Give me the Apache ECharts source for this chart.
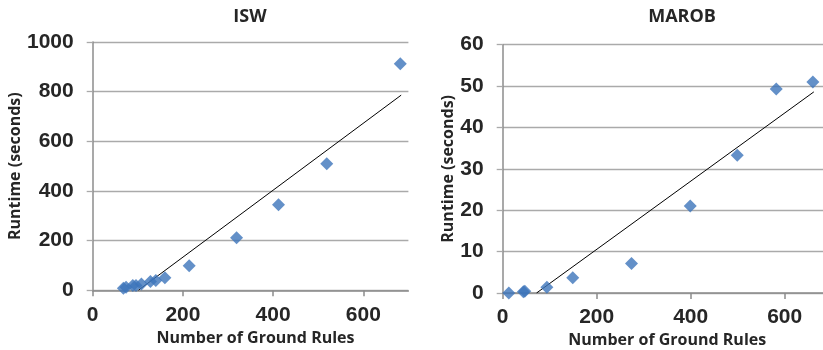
<!DOCTYPE html>
<html><head><meta charset="utf-8">
<script src="https://cdn.jsdelivr.net/npm/echarts@6/dist/echarts.min.js"></script>
<style>html,body{margin:0;padding:0;background:#fff}#c{width:823px;height:350px}</style>
</head><body><div id="c"></div>
<script>
const titles = ['ISW', 'MAROB'];
const xName = 'Number of Ground Rules';
const yName = 'Runtime (seconds)';
const iswX = [68, 74, 89, 96, 108, 128, 140, 160, 214, 319, 412, 519, 682];
const iswY = [8, 12, 19, 19, 25, 35, 39, 51, 99, 212, 345, 510, 912];
const iswTrendX = [101, 684];
const iswTrendY = [0, 786];
const marobX = [13, 44, 47, 94, 149, 274, 399, 499, 582, 660];
const marobY = [0, 0.3, 0.4, 1.4, 3.7, 7.1, 21.0, 33.3, 49.3, 51.0];
const marobTrendX = [72, 662];
const marobTrendY = [0, 48.6];
const xTicks = [0, 200, 400, 600];
const iswYTicks = [0, 200, 400, 600, 800, 1000];
const marobYTicks = [0, 10, 20, 30, 40, 50, 60];

const zip = (a, b) => a.map((v, i) => [v, b[i]]);
const blue = '#3c74ba';
const labelFont = {fontFamily: 'Liberation Sans', fontWeight: 'bold', fontSize: 21, color: '#262626'};
const nameFont = {fontFamily: 'Open Sans', fontWeight: 'bold', fontSize: 16, color: '#262626'};
const titleFont = {fontFamily: 'Open Sans', fontWeight: 'bold', fontSize: 18, color: '#262626'};

function xAxis(gi, gap, pad) {
  return {
    type: 'value', gridIndex: gi, min: 0, max: 700, interval: 200,
    name: xName, nameLocation: 'middle', nameGap: gap,
    nameTextStyle: Object.assign({padding: pad}, nameFont),
    axisLine: {show: true, lineStyle: {color: '#8c8c8c', width: 1.5}},
    axisTick: {show: true, length: 6, lineStyle: {color: '#8c8c8c', width: 1.5}, customValues: xTicks},
    axisLabel: Object.assign({margin: 14, customValues: xTicks, formatter: v => String(v)}, labelFont),
    splitLine: {show: false}
  };
}
function yAxis(gi, max, interval, gap, ticks) {
  return {
    type: 'value', gridIndex: gi, min: 0, max: max, interval: interval,
    name: yName, nameLocation: 'middle', nameGap: gap, nameTextStyle: nameFont,
    axisLine: {show: true, lineStyle: {color: '#8c8c8c', width: 1.5}},
    axisTick: {show: true, length: 6, lineStyle: {color: '#aaa', width: 1.3}},
    axisLabel: Object.assign({margin: 19, formatter: v => String(v)}, labelFont),
    splitLine: {show: true, lineStyle: {color: '#aaa', width: 1.3}}
  };
}

const chart = echarts.init(document.getElementById('c'), null, {renderer: 'canvas'});
chart.setOption({
  animation: false,
  backgroundColor: '#fff',
  title: [
    {text: titles[0], left: 245, top: 3, textAlign: 'center', textStyle: titleFont},
    {text: titles[1], left: 677, top: 3, textAlign: 'center', textStyle: titleFont}
  ],
  grid: [
    {left: 92.7, right: 414.6, top: 42, bottom: 59.7, containLabel: false, outerBoundsMode: 'none'},
    {left: 502.7, right: -8.7, top: 44.7, bottom: 57, containLabel: false, outerBoundsMode: 'none'}
  ],
  xAxis: [xAxis(0, 38, [0, 0, 0, 10]), xAxis(1, 35, [0, 0, 0, 0])],
  yAxis: [yAxis(0, 1000, 200, 66, iswYTicks), yAxis(1, 60, 10, 43, marobYTicks)],
  series: [
    {type: 'line', xAxisIndex: 0, yAxisIndex: 0, data: zip(iswTrendX, iswTrendY), symbol: 'none', lineStyle: {color: '#000', width: 1}, z: 2},
    {type: 'scatter', xAxisIndex: 0, yAxisIndex: 0, data: zip(iswX, iswY), symbol: 'diamond', symbolSize: [13, 13], itemStyle: {color: blue}, z: 3},
    {type: 'line', xAxisIndex: 1, yAxisIndex: 1, data: zip(marobTrendX, marobTrendY), symbol: 'none', lineStyle: {color: '#000', width: 1}, z: 2},
    {type: 'scatter', xAxisIndex: 1, yAxisIndex: 1, data: zip(marobX, marobY), symbol: 'diamond', symbolSize: [13, 13], itemStyle: {color: blue}, z: 3}
  ]
});
</script></body></html>
